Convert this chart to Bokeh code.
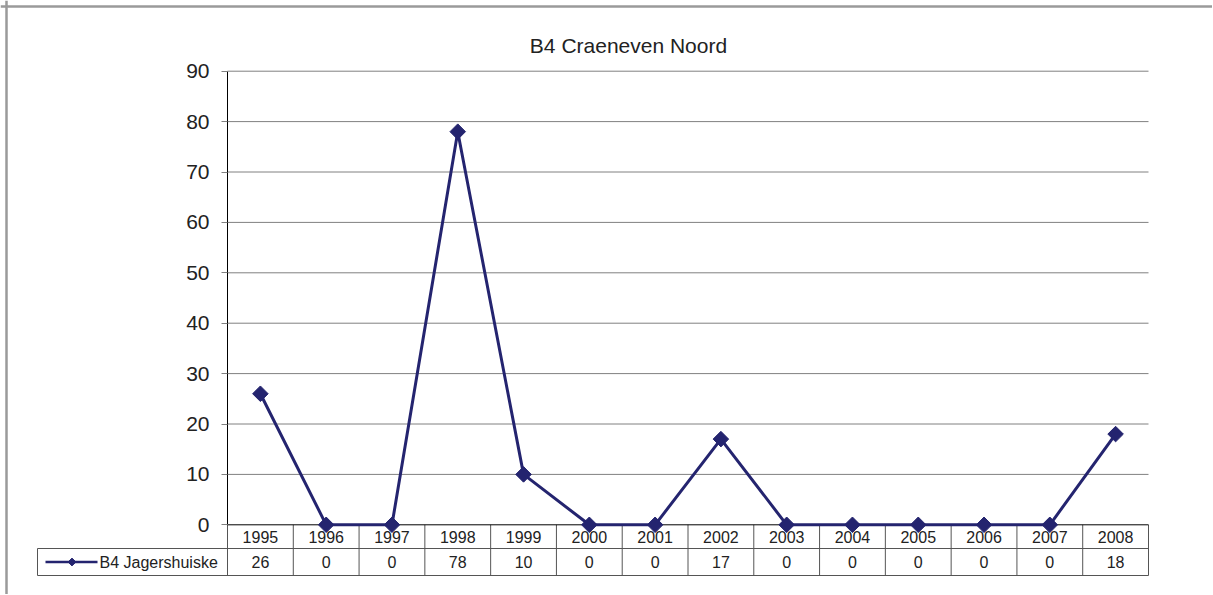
import math
from bokeh.plotting import figure
from bokeh.models import LinearAxis, FixedTicker, Range1d, Span
from bokeh.embed import file_html
from bokeh.resources import INLINE
from bokeh.core.properties import value

# ---------------- data ----------------
chart_title = "B4 Craeneven Noord"
years = ["1995", "1996", "1997", "1998", "1999", "2000", "2001",
         "2002", "2003", "2004", "2005", "2006", "2007", "2008"]
series_name = "B4 Jagershuiske"
counts = [26, 0, 0, 78, 10, 0, 0, 17, 0, 0, 0, 0, 0, 18]
y_ticks = [0, 10, 20, 30, 40, 50, 60, 70, 80, 90]

# ---------------- geometry (page pixels) ----------------
W, H = 1212, 594
ORIGIN = 0
AX_LEFT, AX_RIGHT = 227, 1148
Y0_PX, YTOP_PX = 524.3, 70.7
ROW1_BOTTOM_PX, ROW2_BOTTOM_PX = 548.0, 575.0
LEG_LEFT_PX = 37
TITLE_X_PX, TITLE_Y_PX = 628, 44.8
BORDER_PX = 6

FONT = value("Liberation Sans")
SERIES_COLOR = "#24246f"
TEXT_COLOR = "#222222"
TABLE_COLOR = "#555555"
GRID_COLOR = "#808080"

n = len(years)
cw = (AX_RIGHT - AX_LEFT) / n
ky = (Y0_PX - YTOP_PX) / (y_ticks[-1] - y_ticks[0])


def dx(px):
    return (px - AX_LEFT) / cw - 0.5


def dy(py):
    return (Y0_PX - py) / ky


xs = list(range(n))

p = figure(width=W, height=H,
           x_range=Range1d(dx(ORIGIN), dx(ORIGIN + W)),
           y_range=Range1d(dy(ORIGIN + H), dy(ORIGIN)),
           toolbar_location=None, output_backend="svg",
           x_axis_location=None, y_axis_location=None, min_border=0)
p.outline_line_color = None
p.xgrid.visible = False
p.ygrid.visible = False
p.background_fill_color = "white"
p.border_fill_color = "white"

# outer chart border (left and top visible)
p.add_layout(Span(location=dx(BORDER_PX), dimension="height",
                  line_color="#9a9a9a", line_width=2.5))
p.add_layout(Span(location=dy(BORDER_PX), dimension="width",
                  line_color="#9a9a9a", line_width=2.5))

x_lo, x_hi = -0.5, n - 0.5

# horizontal gridlines
grid_vals = [t for t in y_ticks if t != 0]
p.segment(x0=[x_lo] * len(grid_vals), x1=[x_hi] * len(grid_vals),
          y0=grid_vals, y1=grid_vals, line_color=GRID_COLOR, line_width=1)

# y axis
yaxis = LinearAxis(ticker=FixedTicker(ticks=y_ticks), bounds=(y_ticks[0], y_ticks[-1]))
yaxis.fixed_location = x_lo
yaxis.axis_line_color = "black"
yaxis.axis_line_width = 1
yaxis.major_tick_out = 6
yaxis.major_tick_in = 0
yaxis.minor_tick_line_color = None
yaxis.major_tick_line_color = GRID_COLOR
yaxis.major_label_standoff = 12
yaxis.major_label_text_font = "Liberation Sans"
yaxis.major_label_text_font_size = "21px"
yaxis.major_label_text_color = TEXT_COLOR
p.add_layout(yaxis, "left")

# ---------------- data table ----------------
r1b = dy(ROW1_BOTTOM_PX)
r2b = dy(ROW2_BOTTOM_PX)
leg_l = dx(LEG_LEFT_PX)

# horizontal table lines
p.segment(x0=[leg_l, leg_l], x1=[x_hi, x_hi], y0=[r1b, r2b], y1=[r1b, r2b],
          line_color=TABLE_COLOR, line_width=1)
# vertical table lines
vx = [x_lo + k for k in range(n + 1)]
p.segment(x0=vx, x1=vx, y0=[0] * len(vx), y1=[r2b] * len(vx),
          line_color=TABLE_COLOR, line_width=1)
p.segment(x0=[leg_l], x1=[leg_l], y0=[r1b], y1=[r2b],
          line_color=TABLE_COLOR, line_width=1)

# zero line (category axis)
p.segment(x0=[x_lo], x1=[x_hi], y0=[0], y1=[0], line_color="black", line_width=1)

# year labels & values
p.text(x=xs, y=[r1b / 2] * n, text=years, text_align="center",
       text_baseline="middle", text_font=FONT, text_font_size="16px",
       text_color=TEXT_COLOR)
p.text(x=xs, y=[(r1b + r2b) / 2] * n, text=[str(v) for v in counts],
       text_align="center", text_baseline="middle", text_font=FONT,
       text_font_size="16px", text_color=TEXT_COLOR)

# legend key in table
ky_mid = (r1b + r2b) / 2
p.line(x=[dx(45), dx(97)], y=[ky_mid, ky_mid], line_color=SERIES_COLOR, line_width=2.5)
p.scatter(x=[dx(71.5)], y=[ky_mid], marker="square", size=5.5, angle=math.pi / 4,
          fill_color=SERIES_COLOR, line_color=SERIES_COLOR)
p.text(x=[dx(99)], y=[ky_mid], text=[series_name], text_align="left",
       text_baseline="middle", text_font=FONT, text_font_size="16px",
       text_color=TEXT_COLOR)

# ---------------- series ----------------
p.line(x=xs, y=counts, line_color=SERIES_COLOR, line_width=3)
p.scatter(x=xs, y=counts, marker="square", size=11, angle=math.pi / 4,
          fill_color=SERIES_COLOR, line_color=SERIES_COLOR)

# title
p.text(x=[dx(TITLE_X_PX)], y=[dy(TITLE_Y_PX)], text=[chart_title],
       text_align="center", text_baseline="middle", text_font=FONT,
       text_font_size="21px", text_color=TEXT_COLOR)

open("out.html", "w").write(file_html(p, INLINE))
